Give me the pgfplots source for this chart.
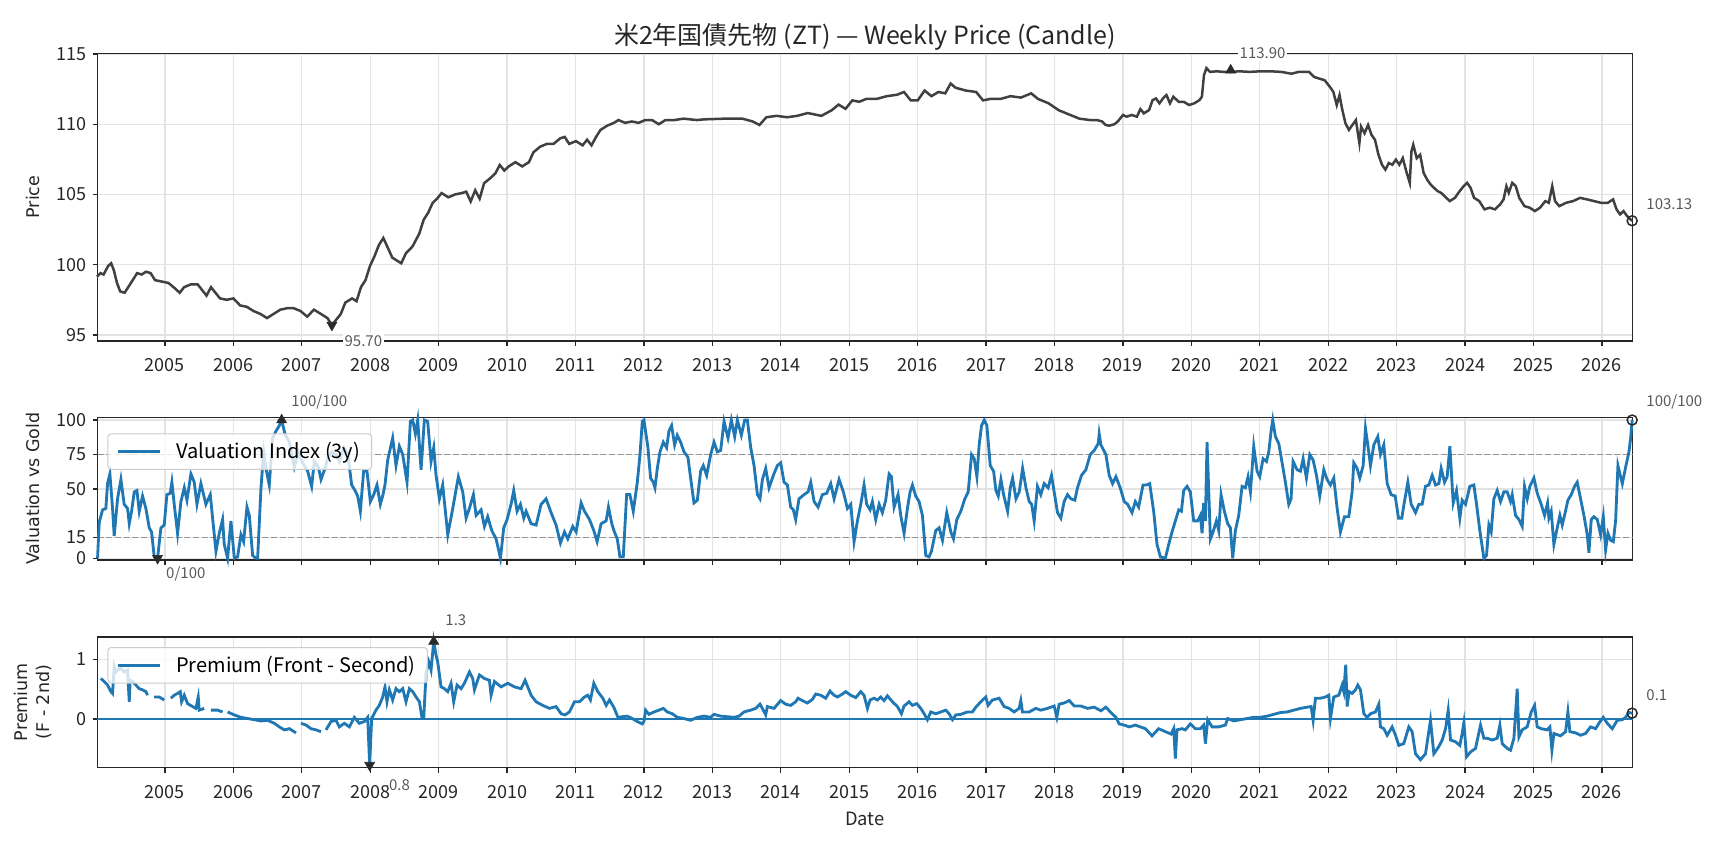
\documentclass[border=0pt]{standalone}
\usepackage{fontspec}
\setmainfont{Noto Sans CJK JP}
\newfontfamily\dejavu{DejaVu Sans}
\usepackage{pgfplots}
\pgfplotsset{compat=1.18}
\definecolor{tabblue}{HTML}{1F77B4}
\definecolor{candle}{HTML}{404040}
\definecolor{gridc}{HTML}{E3E3E3}
\definecolor{spine}{HTML}{262626}
\definecolor{annc}{HTML}{5A5A5A}
\definecolor{mk}{HTML}{2A2A2A}

\tikzset{annot/.style={font=\fontsize{9}{10}\selectfont, text=annc, inner sep=1pt}}
\pgfplotsset{
  base/.style={
    scale only axis, width=921pt,
    xmin=2004.015, xmax=2026.445,
    xtick={2005,...,2026},
    /pgf/number format/1000 sep={},
    /pgf/number format/assume math mode=true,
    grid=major, grid style={gridc, line width=0.8pt},
    axis line style={spine, line width=1pt},
    tick style={spine, line width=0.8pt},
    tick align=outside, major tick length=3pt,
    xtick pos=bottom, ytick pos=left,
    tick label style={font=\fontsize{10.8}{12}\selectfont, text=black!85},
    xticklabel style={yshift=-4pt},
    clip=false,
    every axis y label/.style={at={([xshift=-38.7pt]rel axis cs:0,0.5)}, rotate=90, anchor=center,
      font=\dejavu\fontsize{10.5}{13}\selectfont, align=center, text=black!85},
    every axis x label/.style={at={([yshift=-31pt]rel axis cs:0.5,0)}, anchor=center,
      font=\fontsize{11}{13}\selectfont, text=black!85},
    legend style={anchor=north west, draw=black!20, line width=0.6pt, rounded corners=2pt,
      fill=white, fill opacity=0.8, text opacity=1, font=\fontsize{12}{14}\selectfont,
      inner xsep=5pt, inner ysep=3pt, cells={anchor=west}},
    legend image code/.code={\path[draw=none, fill=none] (0pt,-2pt) rectangle (34pt,2pt);\draw[tabblue, solid, draw opacity=1, line width=1.7pt] (1pt,0pt) -- (26pt,0pt);},
  },
}

\begin{document}
\begin{tikzpicture}
\useasboundingbox (0pt,0pt) rectangle (1036.8pt,-509.4pt);
\node[font=\fontsize{15}{17}\selectfont, text=black!85] at (519pt,-22.3pt) {米2年国債先物 (ZT) — Weekly Price (Candle)};

% ---------------- Top: price ----------------
\begin{axis}[base, at={(58.5pt,-204.4pt)}, anchor=south west, height=172.4pt,
  ymin=94.59, ymax=115.05, ytick={95,100,105,110,115}, ylabel={Price}]
\addplot[candle, line width=1.5pt] coordinates {
(2004.006,99.15)(2004.058,99.4)(2004.104,99.3)(2004.169,99.9)(2004.215,100.1)(2004.254,99.6)
(2004.300,98.7)(2004.346,98.1)(2004.411,98.0)(2004.464,98.4)(2004.529,98.9)(2004.594,99.4)
(2004.660,99.3)(2004.725,99.5)(2004.791,99.4)(2004.856,98.9)(2004.954,98.8)(2005.052,98.7)
(2005.150,98.3)(2005.216,98.0)(2005.281,98.4)(2005.379,98.6)(2005.478,98.6)(2005.543,98.2)
(2005.608,97.8)(2005.674,98.4)(2005.739,98.0)(2005.805,97.6)(2005.903,97.5)(2006.001,97.6)
(2006.099,97.1)(2006.197,97.0)(2006.295,96.7)(2006.393,96.5)(2006.492,96.2)(2006.590,96.5)
(2006.688,96.8)(2006.786,96.9)(2006.884,96.9)(2006.982,96.7)(2007.080,96.3)(2007.178,96.8)
(2007.277,96.5)(2007.375,96.2)(2007.440,95.7)(2007.506,96.1)(2007.571,96.5)(2007.636,97.3)
(2007.735,97.6)(2007.800,97.4)(2007.865,98.4)(2007.931,98.9)(2007.996,99.9)(2008.062,100.6)
(2008.127,101.4)(2008.192,101.9)(2008.258,101.2)(2008.323,100.5)(2008.389,100.3)(2008.454,100.1)
(2008.520,100.8)(2008.618,101.3)(2008.716,102.2)(2008.781,103.2)(2008.847,103.7)(2008.912,104.4)
(2008.977,104.7)(2009.043,105.1)(2009.141,104.8)(2009.239,105.0)(2009.337,105.1)(2009.403,105.2)
(2009.468,104.5)(2009.534,105.3)(2009.599,104.7)(2009.664,105.8)(2009.763,106.2)(2009.828,106.5)
(2009.893,107.1)(2009.959,106.7)(2010.024,107.0)(2010.122,107.3)(2010.221,107.0)(2010.319,107.3)
(2010.384,108.0)(2010.482,108.4)(2010.580,108.6)(2010.678,108.6)(2010.777,109.0)(2010.842,109.1)
(2010.907,108.6)(2011.006,108.8)(2011.104,108.5)(2011.169,108.9)(2011.234,108.5)(2011.300,109.1)
(2011.365,109.6)(2011.463,109.9)(2011.562,110.1)(2011.627,110.3)(2011.725,110.1)(2011.823,110.2)
(2011.921,110.1)(2012.020,110.3)(2012.118,110.3)(2012.216,110.0)(2012.314,110.3)(2012.445,110.3)
(2012.576,110.4)(2012.772,110.3)(2012.884,110.35)(2013.186,110.4)(2013.437,110.4)(2013.588,110.2)
(2013.688,109.95)(2013.789,110.5)(2013.940,110.6)(2014.090,110.5)(2014.241,110.6)(2014.392,110.8)
(2014.593,110.6)(2014.744,111.0)(2014.844,111.4)(2014.945,111.1)(2015.045,111.7)(2015.146,111.6)
(2015.246,111.8)(2015.397,111.8)(2015.548,112.0)(2015.698,112.1)(2015.799,112.3)(2015.899,111.7)
(2016.000,111.7)(2016.101,112.4)(2016.201,112.0)(2016.302,112.3)(2016.402,112.2)(2016.482,112.9)
(2016.553,112.6)(2016.704,112.4)(2016.854,112.3)(2016.955,111.7)(2017.055,111.8)(2017.206,111.8)
(2017.357,112.0)(2017.508,111.9)(2017.658,112.2)(2017.759,111.8)(2017.910,111.5)(2018.060,111.0)
(2018.211,110.7)(2018.362,110.4)(2018.518,110.3)(2018.619,110.3)(2018.695,110.2)(2018.746,109.95)
(2018.797,109.9)(2018.873,110.0)(2018.924,110.2)(2019.000,110.66)(2019.051,110.54)(2019.127,110.66)
(2019.203,110.54)(2019.254,111.08)(2019.305,110.78)(2019.381,111.01)(2019.432,111.72)(2019.482,111.84)
(2019.533,111.49)(2019.584,111.84)(2019.635,112.08)(2019.686,111.49)(2019.736,111.96)(2019.813,111.6)
(2019.889,111.6)(2019.965,111.37)(2020.041,111.49)(2020.117,111.72)(2020.153,111.96)(2020.183,113.49)
(2020.219,114.0)(2020.270,113.73)(2020.371,113.77)(2020.473,113.73)(2020.574,113.73)(2020.701,113.77)
(2020.854,113.73)(2021.006,113.77)(2021.158,113.77)(2021.311,113.73)(2021.463,113.6)(2021.565,113.73)
(2021.717,113.73)(2021.793,113.37)(2021.869,113.25)(2021.946,113.14)(2022.022,112.67)(2022.073,112.31)
(2022.123,111.37)(2022.164,112.08)(2022.200,111.13)(2022.250,110.07)(2022.301,109.6)(2022.352,109.95)
(2022.403,110.3)(2022.454,108.66)(2022.479,109.83)(2022.530,109.36)(2022.581,109.95)(2022.631,109.25)
(2022.682,108.89)(2022.733,107.83)(2022.784,107.12)(2022.834,106.77)(2022.885,107.24)(2022.936,107.12)
(2022.987,107.48)(2023.038,107.12)(2023.088,107.59)(2023.139,106.65)(2023.190,105.83)(2023.215,108.07)
(2023.241,108.54)(2023.292,107.59)(2023.342,107.83)(2023.393,106.53)(2023.444,106.06)(2023.495,105.71)
(2023.545,105.47)(2023.596,105.24)(2023.647,105.12)(2023.698,104.88)(2023.774,104.53)(2023.850,104.76)
(2023.901,105.12)(2023.977,105.59)(2024.028,105.83)(2024.079,105.47)(2024.130,104.76)(2024.206,104.53)
(2024.282,103.94)(2024.358,104.06)(2024.434,103.94)(2024.510,104.29)(2024.561,104.65)(2024.602,105.59)
(2024.637,105.12)(2024.688,105.83)(2024.739,105.59)(2024.790,104.76)(2024.866,104.17)(2024.942,104.06)
(2025.018,103.82)(2025.094,104.06)(2025.171,104.53)(2025.222,104.41)(2025.272,105.59)(2025.313,104.53)
(2025.374,104.17)(2025.475,104.41)(2025.577,104.53)(2025.678,104.76)(2025.780,104.65)(2025.882,104.53)
(2025.983,104.41)(2026.085,104.41)(2026.161,104.65)(2026.212,103.94)(2026.263,103.58)(2026.313,103.82)
(2026.364,103.47)(2026.415,103.23)(2026.440,103.13)
};
\addplot[only marks, mark=triangle*, mark size=3.4pt, mk] coordinates {(2020.573,113.85)};
\addplot[only marks, mark=triangle*, mark size=3.4pt, mk, mark options={rotate=180}] coordinates {(2007.44,95.7)};
\addplot[only marks, mark=o, mark size=3pt, mk, line width=0.9pt] coordinates {(2026.44,103.13)};
\node[annot, fill=white] at (axis cs:2021.04,115.05) {113.90};
\node[annot, fill=white] at (axis cs:2007.90,94.59) {95.70};
\node[annot, anchor=west] at (axis cs:2026.62,104.32) {103.13};
\end{axis}

% ---------------- Middle: valuation ----------------
\begin{axis}[base, at={(58.5pt,-336pt)}, anchor=south west, height=85.6pt,
  ymin=-1.3, ymax=101.95, ytick={0,15,50,75,100}, xticklabels={},
  ylabel={Valuation vs Gold}, legend style={at={(0.0065,0.888)}}]
\addplot[black!42, line width=1.1pt, dash pattern=on 3.6pt off 1.6pt, forget plot] coordinates {(2004.015,75)(2026.445,75)};
\addplot[black!42, line width=1.1pt, dash pattern=on 3.6pt off 1.6pt, forget plot] coordinates {(2004.015,15)(2026.445,15)};
\addplot[tabblue, line width=1.7pt] coordinates {
(2004.016,0)(2004.040,26)(2004.089,35)(2004.137,36)(2004.162,54)(2004.196,61)(2004.235,36)(2004.259,16)
(2004.308,43)(2004.357,57)(2004.405,39)(2004.454,36)(2004.479,25)(2004.513,34)(2004.552,48)(2004.591,49)
(2004.625,34)(2004.673,45)(2004.722,36)(2004.771,22)(2004.805,19)(2004.844,1)(2004.893,0)(2004.942,22)
(2004.990,24)(2005.029,46)(2005.078,47)(2005.102,55)(2005.136,39)(2005.185,18)(2005.234,41)(2005.283,51)
(2005.322,42)(2005.380,61)(2005.429,55)(2005.468,39)(2005.526,54)(2005.599,39)(2005.663,46)(2005.697,29)
(2005.746,5)(2005.794,18)(2005.843,28)(2005.867,10)(2005.916,0)(2005.965,27)(2006.014,0)(2006.062,1)
(2006.111,17)(2006.150,12)(2006.199,37)(2006.233,31)(2006.282,2)(2006.330,0)(2006.355,0)(2006.404,51)
(2006.443,77)(2006.477,65)(2006.525,53)(2006.574,87)(2006.623,92)(2006.672,96)(2006.706,100)(2006.754,90)
(2006.818,84)(2006.891,66)(2006.949,77)(2007.013,69)(2007.086,63)(2007.144,52)(2007.183,70)(2007.242,66)
(2007.281,57)(2007.339,65)(2007.378,72)(2007.437,77)(2007.500,75)(2007.549,70)(2007.612,80)(2007.671,76)
(2007.729,53)(2007.778,49)(2007.817,45)(2007.856,34)(2007.904,63)(2007.953,63)(2008.002,41)(2008.051,46)
(2008.099,53)(2008.148,39)(2008.187,46)(2008.216,53)(2008.255,71)(2008.328,87)(2008.377,67)(2008.426,81)
(2008.475,75)(2008.538,55)(2008.587,99)(2008.621,100)(2008.660,90)(2008.694,100)(2008.743,64)(2008.791,100)
(2008.840,99)(2008.889,70)(2008.928,80)(2008.962,60)(2009.011,43)(2009.059,53)(2009.133,17)(2009.206,36)
(2009.288,59)(2009.352,48)(2009.401,29)(2009.449,36)(2009.508,46)(2009.547,31)(2009.620,35)(2009.669,23)
(2009.717,30)(2009.776,20)(2009.839,14)(2009.903,0)(2009.951,22)(2010.000,28)(2010.058,39)(2010.097,49)
(2010.146,34)(2010.195,39)(2010.244,29)(2010.278,34)(2010.351,25)(2010.424,24)(2010.497,39)(2010.570,43)
(2010.643,33)(2010.716,24)(2010.780,11)(2010.838,19)(2010.887,14)(2010.960,23)(2011.009,19)(2011.082,40)
(2011.131,34)(2011.204,28)(2011.267,20)(2011.316,12)(2011.374,25)(2011.447,27)(2011.481,37)(2011.530,25)
(2011.561,20)(2011.610,14)(2011.649,1)(2011.698,1)(2011.747,46)(2011.795,46)(2011.844,34)(2011.903,55)
(2011.942,75)(2011.976,99)(2012.000,100)(2012.058,80)(2012.097,58)(2012.136,55)(2012.161,51)(2012.195,65)
(2012.234,77)(2012.283,84)(2012.331,80)(2012.365,92)(2012.404,96)(2012.448,82)(2012.487,89)(2012.536,84)
(2012.585,77)(2012.643,73)(2012.682,58)(2012.731,40)(2012.780,42)(2012.828,63)(2012.867,67)(2012.916,60)
(2012.975,75)(2013.024,84)(2013.072,77)(2013.121,78)(2013.170,99)(2013.228,87)(2013.277,100)(2013.326,88)
(2013.365,100)(2013.423,89)(2013.472,100)(2013.511,100)(2013.560,80)(2013.609,67)(2013.658,46)(2013.696,43)
(2013.731,57)(2013.779,65)(2013.828,51)(2013.891,60)(2013.949,67)(2013.998,69)(2014.047,55)(2014.096,53)
(2014.144,37)(2014.183,35)(2014.217,28)(2014.266,43)(2014.339,46)(2014.398,48)(2014.437,55)(2014.486,41)
(2014.544,37)(2014.607,46)(2014.671,47)(2014.729,54)(2014.778,43)(2014.851,57)(2014.914,48)(2014.973,36)
(2015.022,39)(2015.070,12)(2015.119,27)(2015.168,39)(2015.216,53)(2015.255,39)(2015.304,35)(2015.338,41)
(2015.387,28)(2015.436,39)(2015.484,33)(2015.533,42)(2015.582,61)(2015.616,59)(2015.655,37)(2015.713,46)
(2015.752,31)(2015.801,18)(2015.850,36)(2015.889,48)(2015.923,53)(2015.971,45)(2016.020,41)(2016.069,31)
(2016.118,2)(2016.166,1)(2016.201,5)(2016.264,20)(2016.313,22)(2016.362,13)(2016.425,33)(2016.484,19)
(2016.523,14)(2016.572,28)(2016.630,34)(2016.689,43)(2016.738,48)(2016.787,75)(2016.826,72)(2016.865,59)
(2016.898,82)(2016.933,96)(2016.972,100)(2017.011,96)(2017.060,67)(2017.109,63)(2017.143,49)(2017.177,45)
(2017.216,57)(2017.255,46)(2017.314,34)(2017.353,51)(2017.387,58)(2017.436,43)(2017.484,48)(2017.533,65)
(2017.582,51)(2017.629,41)(2017.665,39)(2017.702,27)(2017.750,52)(2017.799,46)(2017.848,54)(2017.906,51)
(2017.955,60)(2017.994,48)(2018.043,33)(2018.092,29)(2018.140,41)(2018.189,46)(2018.238,43)(2018.296,42)
(2018.335,51)(2018.394,60)(2018.457,64)(2018.521,75)(2018.579,78)(2018.638,83)(2018.652,90)(2018.677,82)
(2018.750,75)(2018.798,60)(2018.847,54)(2018.896,59)(2018.959,51)(2019.018,41)(2019.068,39)(2019.132,33)
(2019.180,41)(2019.229,37)(2019.292,53)(2019.341,53)(2019.390,54)(2019.448,34)(2019.497,10)(2019.546,1)
(2019.619,0)(2019.668,10)(2019.716,19)(2019.765,27)(2019.814,35)(2019.853,34)(2019.887,49)(2019.936,52)
(2019.984,48)(2020.033,27)(2020.092,27)(2020.131,31)(2020.155,18)(2020.179,40)(2020.204,27)(2020.228,84)
(2020.277,14)(2020.316,19)(2020.365,27)(2020.399,20)(2020.433,46)(2020.481,34)(2020.530,25)(2020.569,22)
(2020.603,0)(2020.642,20)(2020.691,31)(2020.740,52)(2020.788,51)(2020.827,59)(2020.862,48)(2020.910,81)
(2020.959,63)(2020.998,59)(2021.047,72)(2021.096,70)(2021.130,77)(2021.164,92)(2021.188,100)(2021.227,88)
(2021.276,83)(2021.325,69)(2021.373,55)(2021.422,39)(2021.456,43)(2021.485,70)(2021.544,64)(2021.593,63)
(2021.632,72)(2021.680,58)(2021.729,75)(2021.778,71)(2021.827,60)(2021.875,45)(2021.934,64)(2021.982,57)
(2022.031,53)(2022.080,58)(2022.129,36)(2022.177,19)(2022.236,30)(2022.299,30)(2022.348,48)(2022.372,69)
(2022.421,65)(2022.460,58)(2022.509,67)(2022.543,94)(2022.577,82)(2022.616,67)(2022.665,82)(2022.723,88)
(2022.762,75)(2022.811,82)(2022.860,54)(2022.918,46)(2022.977,45)(2023.026,29)(2023.074,29)(2023.109,40)
(2023.162,55)(2023.211,39)(2023.274,33)(2023.323,39)(2023.371,39)(2023.420,52)(2023.469,53)(2023.518,60)
(2023.567,53)(2023.615,54)(2023.649,65)(2023.698,55)(2023.737,59)(2023.776,81)(2023.825,40)(2023.873,49)
(2023.922,29)(2023.956,42)(2024.005,39)(2024.068,52)(2024.127,53)(2024.166,39)(2024.214,20)(2024.273,0)
(2024.312,2)(2024.346,24)(2024.380,19)(2024.419,43)(2024.468,49)(2024.517,41)(2024.565,48)(2024.614,48)
(2024.663,41)(2024.687,46)(2024.736,31)(2024.785,28)(2024.833,23)(2024.867,52)(2024.907,43)(2024.945,52)
(2025.004,58)(2025.053,47)(2025.111,39)(2025.160,31)(2025.204,40)(2025.223,29)(2025.257,34)(2025.296,10)
(2025.345,22)(2025.384,31)(2025.418,24)(2025.452,31)(2025.501,42)(2025.550,46)(2025.598,52)(2025.637,55)
(2025.686,43)(2025.735,31)(2025.784,17)(2025.808,4)(2025.842,28)(2025.881,30)(2025.930,28)(2025.979,17)
(2026.018,30)(2026.052,6)(2026.086,18)(2026.125,13)(2026.164,12)(2026.198,27)(2026.232,67)(2026.271,59)
(2026.296,54)(2026.345,66)(2026.393,77)(2026.418,87)(2026.440,100)
};
\addlegendentry{Valuation Index (3y)}
\addplot[only marks, mark=triangle*, mark size=3.4pt, mk, mark options={rotate=180}, forget plot] coordinates {(2004.893,0)};
\addplot[only marks, mark=triangle*, mark size=3.4pt, mk, forget plot] coordinates {(2006.706,100)};
\addplot[only marks, mark=o, mark size=3pt, mk, line width=0.9pt, forget plot] coordinates {(2026.44,100)};
\node[annot, anchor=west] at (axis cs:2004.99,-11.4) {0/100};
\node[annot, anchor=west] at (axis cs:2006.82,113) {100/100};
\node[annot, anchor=west] at (axis cs:2026.62,113) {100/100};
\end{axis}

% ---------------- Bottom: premium ----------------
\begin{axis}[base, at={(58.5pt,-460.5pt)}, anchor=south west, height=78.5pt,
  ymin=-0.81, ymax=1.38, ytick={0,1}, unbounded coords=jump,
  ylabel={Premium\\(F - 2nd)}, xlabel={Date}, legend style={at={(0.0065,0.921)}}]
\addplot[tabblue, line width=0.9pt, forget plot] coordinates {(2004.015,0)(2026.445,0)};
\addplot[tabblue, line width=1.7pt] coordinates {
(2004.064,0.68)(2004.113,0.63)(2004.162,0.57)(2004.211,0.46)(2004.235,0.43)(2004.259,0.88)(2004.284,0.79)
(2004.308,0.82)(2004.357,0.85)(2004.405,0.79)(2004.454,0.82)(2004.479,0.29)(2004.493,0.65)(2004.527,0.63)
(2004.576,0.57)(2004.625,0.51)(2004.673,0.49)(2004.722,0.46)(2004.747,0.40)(2004.79,nan)
(2004.844,0.37)(2004.917,0.37)(2004.990,0.32)(2005.04,nan)(2005.088,0.35)(2005.136,0.40)(2005.185,0.43)
(2005.224,0.46)(2005.244,0.29)(2005.283,0.40)(2005.331,0.26)(2005.404,0.21)(2005.453,0.18)(2005.487,0.37)
(2005.502,0.15)(2005.575,0.18)(2005.62,nan)(2005.672,0.15)(2005.770,0.15)(2005.843,0.12)(2005.88,nan)
(2005.916,0.12)(2006.014,0.07)(2006.111,0.03)(2006.209,0.01)(2006.306,-0.01)(2006.404,-0.03)(2006.501,-0.02)
(2006.599,-0.07)(2006.672,-0.13)(2006.745,-0.18)(2006.818,-0.16)(2006.916,-0.23)(2006.95,nan)
(2006.989,-0.07)(2007.062,-0.10)(2007.135,-0.16)(2007.208,-0.18)(2007.281,-0.21)(2007.32,nan)
(2007.354,-0.18)(2007.427,-0.04)(2007.500,-0.02)(2007.549,-0.13)(2007.622,-0.07)(2007.695,-0.13)
(2007.768,0.03)(2007.841,-0.07)(2007.914,-0.04)(2007.963,0.03)(2007.992,-0.77)(2008.021,0.01)(2008.084,0.15)
(2008.133,0.23)(2008.182,0.37)(2008.216,0.54)(2008.245,0.29)(2008.279,0.49)(2008.328,0.32)(2008.377,0.51)
(2008.426,0.46)(2008.475,0.51)(2008.523,0.29)(2008.572,0.51)(2008.621,0.46)(2008.670,0.37)(2008.719,0.29)
(2008.758,0.01)(2008.782,0.01)(2008.816,0.77)(2008.855,0.96)(2008.889,0.82)(2008.928,1.30)(2008.962,1.07)
(2008.986,0.96)(2009.035,0.54)(2009.084,0.51)(2009.133,0.46)(2009.181,0.60)(2009.220,0.29)(2009.269,0.57)
(2009.328,0.51)(2009.376,0.60)(2009.450,0.79)(2009.498,0.68)(2009.523,0.49)(2009.596,0.74)(2009.669,0.68)
(2009.742,0.65)(2009.766,0.40)(2009.815,0.63)(2009.912,0.54)(2010.010,0.60)(2010.107,0.54)(2010.205,0.51)
(2010.263,0.65)(2010.351,0.40)(2010.424,0.29)(2010.521,0.23)(2010.619,0.18)(2010.716,0.21)(2010.790,0.09)
(2010.848,0.07)(2010.911,0.12)(2010.984,0.29)(2011.057,0.29)(2011.131,0.37)(2011.179,0.40)(2011.218,0.32)
(2011.267,0.60)(2011.326,0.46)(2011.399,0.35)(2011.448,0.23)(2011.496,0.32)(2011.559,0.20)(2011.620,0.03)
(2011.683,0.04)(2011.756,0.05)(2011.829,0.01)(2011.903,-0.04)(2011.976,-0.08)(2012.000,-0.04)(2012.024,0.15)
(2012.073,0.08)(2012.146,0.12)(2012.219,0.15)(2012.283,0.18)(2012.341,0.12)(2012.414,0.09)(2012.487,0.03)
(2012.585,0.01)(2012.682,-0.02)(2012.780,0.03)(2012.877,0.05)(2012.975,0.03)(2013.023,0.08)(2013.121,0.05)
(2013.218,0.04)(2013.316,0.03)(2013.389,0.05)(2013.462,0.12)(2013.559,0.15)(2013.633,0.18)(2013.696,0.25)
(2013.730,0.18)(2013.779,0.07)(2013.803,0.21)(2013.901,0.18)(2013.998,0.31)(2014.071,0.25)(2014.144,0.23)
(2014.217,0.29)(2014.251,0.35)(2014.315,0.31)(2014.388,0.27)(2014.461,0.33)(2014.510,0.42)(2014.583,0.40)
(2014.656,0.35)(2014.719,0.47)(2014.778,0.40)(2014.827,0.37)(2014.900,0.42)(2014.948,0.46)(2015.021,0.40)
(2015.095,0.36)(2015.168,0.46)(2015.216,0.40)(2015.265,0.18)(2015.304,0.32)(2015.363,0.35)(2015.411,0.32)
(2015.460,0.37)(2015.509,0.31)(2015.558,0.39)(2015.631,0.29)(2015.704,0.21)(2015.762,0.09)(2015.801,0.22)
(2015.874,0.29)(2015.923,0.23)(2015.986,0.26)(2016.045,0.18)(2016.094,0.09)(2016.142,-0.01)(2016.191,0.12)
(2016.264,0.09)(2016.337,0.12)(2016.410,0.15)(2016.459,0.09)(2016.508,-0.01)(2016.557,0.07)(2016.630,0.08)
(2016.727,0.12)(2016.800,0.12)(2016.849,0.20)(2016.922,0.29)(2016.995,0.37)(2017.029,0.23)(2017.092,0.32)
(2017.190,0.35)(2017.263,0.21)(2017.336,0.18)(2017.409,0.12)(2017.482,0.18)(2017.507,0.31)(2017.531,0.12)
(2017.629,0.12)(2017.726,0.18)(2017.799,0.15)(2017.897,0.18)(2017.994,0.22)(2018.033,0.03)(2018.067,0.25)
(2018.140,0.27)(2018.214,0.31)(2018.287,0.22)(2018.384,0.22)(2018.482,0.18)(2018.579,0.20)(2018.677,0.14)
(2018.750,0.20)(2018.823,0.11)(2018.896,0.03)(2018.944,-0.08)(2019.018,-0.10)(2019.091,-0.13)(2019.180,-0.10)
(2019.253,-0.13)(2019.327,-0.16)(2019.424,-0.28)(2019.521,-0.16)(2019.619,-0.21)(2019.702,-0.25)(2019.741,-0.16)
(2019.765,-0.66)(2019.789,-0.18)(2019.863,-0.16)(2019.911,-0.18)(2019.984,-0.08)(2020.058,-0.16)(2020.131,-0.16)
(2020.179,-0.10)(2020.204,-0.41)(2020.238,-0.01)(2020.301,-0.13)(2020.399,-0.13)(2020.496,-0.10)(2020.530,0.01)
(2020.618,-0.03)(2020.715,-0.01)(2020.813,0.01)(2020.910,0.03)(2021.008,0.03)(2021.105,0.05)(2021.203,0.08)
(2021.300,0.11)(2021.398,0.12)(2021.495,0.15)(2021.593,0.18)(2021.690,0.20)(2021.749,0.21)(2021.778,-0.02)
(2021.812,0.35)(2021.885,0.35)(2021.958,0.37)(2022.007,0.40)(2022.031,0.01)(2022.080,0.37)(2022.153,0.40)
(2022.202,0.57)(2022.226,0.46)(2022.255,0.91)(2022.275,0.21)(2022.304,0.46)(2022.348,0.43)(2022.397,0.49)
(2022.431,0.57)(2022.470,0.49)(2022.519,0.09)(2022.567,0.03)(2022.616,0.09)(2022.689,0.12)(2022.738,0.25)
(2022.762,-0.13)(2022.811,-0.16)(2022.860,-0.27)(2022.933,-0.13)(2022.982,-0.27)(2023.030,-0.44)(2023.103,-0.41)
(2023.176,-0.13)(2023.225,-0.21)(2023.274,-0.58)(2023.347,-0.68)(2023.420,-0.58)(2023.493,-0.02)(2023.542,-0.58)
(2023.615,-0.46)(2023.664,-0.35)(2023.713,-0.16)(2023.752,0.15)(2023.786,-0.35)(2023.859,-0.38)(2023.922,-0.44)
(2023.956,-0.24)(2023.981,-0.06)(2024.020,-0.63)(2024.078,-0.55)(2024.151,-0.49)(2024.224,-0.10)(2024.273,-0.32)
(2024.322,-0.32)(2024.395,-0.35)(2024.468,-0.32)(2024.507,-0.10)(2024.541,-0.41)(2024.614,-0.49)(2024.663,-0.52)
(2024.712,-0.32)(2024.760,0.51)(2024.785,-0.30)(2024.833,-0.18)(2024.906,-0.13)(2024.965,0.12)(2025.014,0.23)
(2025.053,-0.13)(2025.111,-0.16)(2025.199,-0.18)(2025.238,-0.13)(2025.267,-0.52)(2025.296,-0.24)(2025.394,-0.28)
(2025.467,-0.21)(2025.501,0.12)(2025.530,-0.21)(2025.613,-0.23)(2025.686,-0.27)(2025.759,-0.24)(2025.832,-0.13)
(2025.906,-0.16)(2025.954,-0.07)(2026.018,0.03)(2026.076,-0.07)(2026.149,-0.16)(2026.222,-0.02)(2026.295,-0.01)
(2026.344,0.03)(2026.393,0.11)(2026.440,0.10)
};
\addlegendentry{Premium (Front - Second)}
\addplot[only marks, mark=triangle*, mark size=3.4pt, mk, forget plot] coordinates {(2008.928,1.30)};
\addplot[only marks, mark=triangle*, mark size=3.4pt, mk, mark options={rotate=180}, forget plot] coordinates {(2007.992,-0.77)};
\addplot[only marks, mark=o, mark size=3pt, mk, line width=0.9pt, forget plot] coordinates {(2026.44,0.10)};
\node[annot, anchor=west] at (axis cs:2009.07,1.66) {1.3};
\node[annot, anchor=west] at (axis cs:2008.17,-1.10) {-0.8};
\node[annot, anchor=west] at (axis cs:2026.62,0.40) {0.1};
\end{axis}
\end{tikzpicture}
\end{document}
